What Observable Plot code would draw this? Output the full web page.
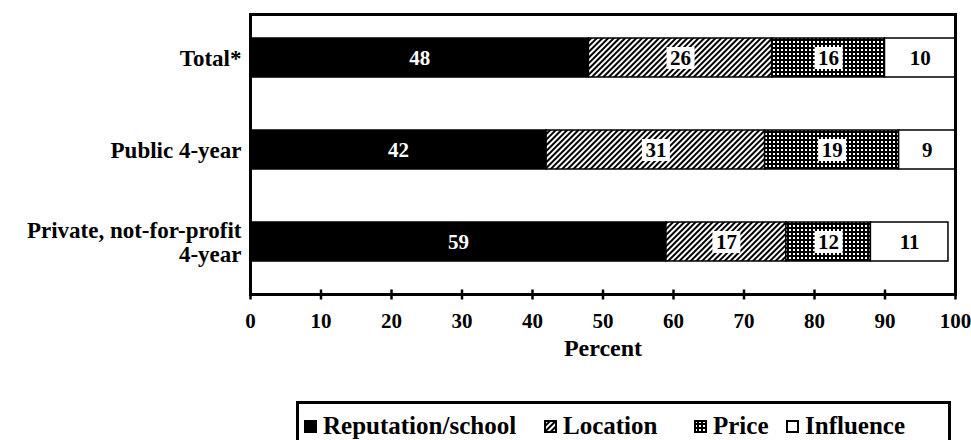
<!DOCTYPE html>
<html>
<head>
<meta charset="utf-8">
<script src="https://cdn.jsdelivr.net/npm/d3@7"></script>
<script src="https://cdn.jsdelivr.net/npm/@observablehq/plot@0.6"></script>
<style>
  body { margin: 0; background: #fff; }
  #chart { position: relative; width: 971px; height: 440px; overflow: hidden;
           font-family: "Liberation Serif", "Times New Roman", serif; font-weight: bold; color: #000; }
  #chart svg.plot { display: block; }
  #legend { position: absolute; left: 296px; top: 401px; width: 655px; height: 60px;
            border: 3px solid #000; border-bottom: none; box-sizing: border-box; }
  .item { position: absolute; top: 9px; height: 25px; font-size: 25px; line-height: 25px; white-space: nowrap; }
  .item svg { position: absolute; top: 7px; }
  .item span { position: absolute; top: 0; }
</style>
</head>
<body>
<div id="chart"></div>
<script>
// Share of students by main reason for choosing their institution (percent)
const groups = ["Total*", "Public 4-year", "Private, not-for-profit\n4-year"];
const reasons = ["Reputation/school", "Location", "Price", "Influence"];
const reputationPct = [48, 42, 59];
const locationPct = [26, 31, 17];
const pricePct = [16, 19, 12];
const influencePct = [10, 9, 11];
const percentTicks = [0, 10, 20, 30, 40, 50, 60, 70, 80, 90, 100];

const fills = ["#000", "url(#hatch)", "url(#grid)", "#fff"];

// Long table with cumulative stacking along each row
const series = [reputationPct, locationPct, pricePct, influencePct];
const rows = [];
groups.forEach((g, i) => {
  let start = 0;
  reasons.forEach((r, j) => {
    const v = series[j][i];
    rows.push({group: g, reason: r, value: v, x1: start, x2: start + v, mid: start + v / 2});
    start += v;
  });
});
const darkRows = rows.filter(d => d.reason === "Reputation/school");
const boxedRows = rows.filter(d => d.reason === "Location" || d.reason === "Price");
const plainRows = rows.filter(d => d.reason === "Influence");

// Custom symbols: a short vertical tick, and a label backing box
const vtick = {draw(ctx, size) { const h = Math.sqrt(size / Math.PI); ctx.moveTo(0, -h); ctx.lineTo(0, h); }};
const labelBox = {draw(ctx) { ctx.rect(-14, -11, 28, 22); }};

const font = "'Liberation Serif', 'Times New Roman', serif";

const svg = Plot.plot({
  width: 971,
  height: 395,
  marginLeft: 250,
  marginRight: 16,
  marginTop: 14,
  marginBottom: 101,
  style: {fontFamily: font, fontWeight: "bold", fontSize: "21px", color: "#000", background: "#fff", overflow: "visible"},
  x: {domain: [0, 100]},
  y: {domain: groups, axis: null, paddingInner: 0.58, paddingOuter: 0.31, align: 0.42},
  color: {domain: reasons, range: fills},
  marks: [
    Plot.barX(rows, {x1: "x1", x2: "x2", y: "group", fill: "reason", stroke: "#000", strokeWidth: 1.5, clip: true}),
    Plot.dot(boxedRows, {x: "mid", y: "group", symbol: labelBox, r: 1, fill: "#fff", stroke: "none"}),
    Plot.text(darkRows, {x: "mid", y: "group", text: d => String(d.value), fill: "#fff", fontSize: 21, fontWeight: "bold"}),
    Plot.text(boxedRows, {x: "mid", y: "group", text: d => String(d.value), fill: "#000", fontSize: 21, fontWeight: "bold"}),
    Plot.text(plainRows, {x: d => (d.x1 + Math.min(d.x2, 100)) / 2, y: "group", text: d => String(d.value), fill: "#000", fontSize: 21, fontWeight: "bold"}),
    Plot.frame({stroke: "#000", strokeWidth: 3}),
    Plot.dot(percentTicks, {x: d => d, frameAnchor: "bottom", symbol: vtick, r: 5, stroke: "#000", strokeWidth: 2.5, fill: "none"}),
    Plot.axisX(percentTicks, {tickSize: 0, tickPadding: 19, fontSize: 21, fontWeight: "bold", label: null}),
    Plot.text(["Percent"], {frameAnchor: "bottom", dy: 61, fontSize: 24, fontWeight: "bold", fill: "#000"}),
    Plot.text(groups, {y: d => d, frameAnchor: "left", dx: -9, textAnchor: "end", fontSize: 23, fontWeight: "bold", lineHeight: 1.05, fill: "#000"})
  ]
});

// Fill patterns for the Location (diagonal hatch) and Price (dotted grid) segments
const defs = d3.select(svg).insert("defs", ":first-child");
const hatch = defs.append("pattern").attr("id", "hatch").attr("patternUnits", "userSpaceOnUse")
  .attr("width", 4).attr("height", 4).attr("patternTransform", "rotate(45)");
hatch.append("rect").attr("width", 4).attr("height", 4).attr("fill", "#fff");
hatch.append("rect").attr("width", 2).attr("height", 4).attr("fill", "#000");
const grid = defs.append("pattern").attr("id", "grid").attr("patternUnits", "userSpaceOnUse")
  .attr("width", 4).attr("height", 4);
grid.append("rect").attr("width", 4).attr("height", 4).attr("fill", "#000");
grid.append("rect").attr("x", 1).attr("y", 1).attr("width", 2).attr("height", 2).attr("fill", "#fff");

const chart = document.getElementById("chart");
chart.appendChild(svg);

// Legend box below the chart
const legend = document.createElement("div");
legend.id = "legend";
const legendLeft = [5, 245, 395, 487];
reasons.forEach((r, j) => {
  const item = document.createElement("div");
  item.className = "item";
  item.style.left = legendLeft[j] + "px";
  const sw = d3.create("svg").attr("width", 13).attr("height", 13);
  sw.append("rect").attr("x", 1).attr("y", 1).attr("width", 11).attr("height", 11)
    .attr("fill", fills[j]).attr("stroke", "#000").attr("stroke-width", 2);
  item.appendChild(sw.node());
  const label = document.createElement("span");
  label.style.left = "19px";
  label.textContent = r;
  item.appendChild(label);
  legend.appendChild(item);
});
chart.appendChild(legend);
</script>
</body>
</html>
